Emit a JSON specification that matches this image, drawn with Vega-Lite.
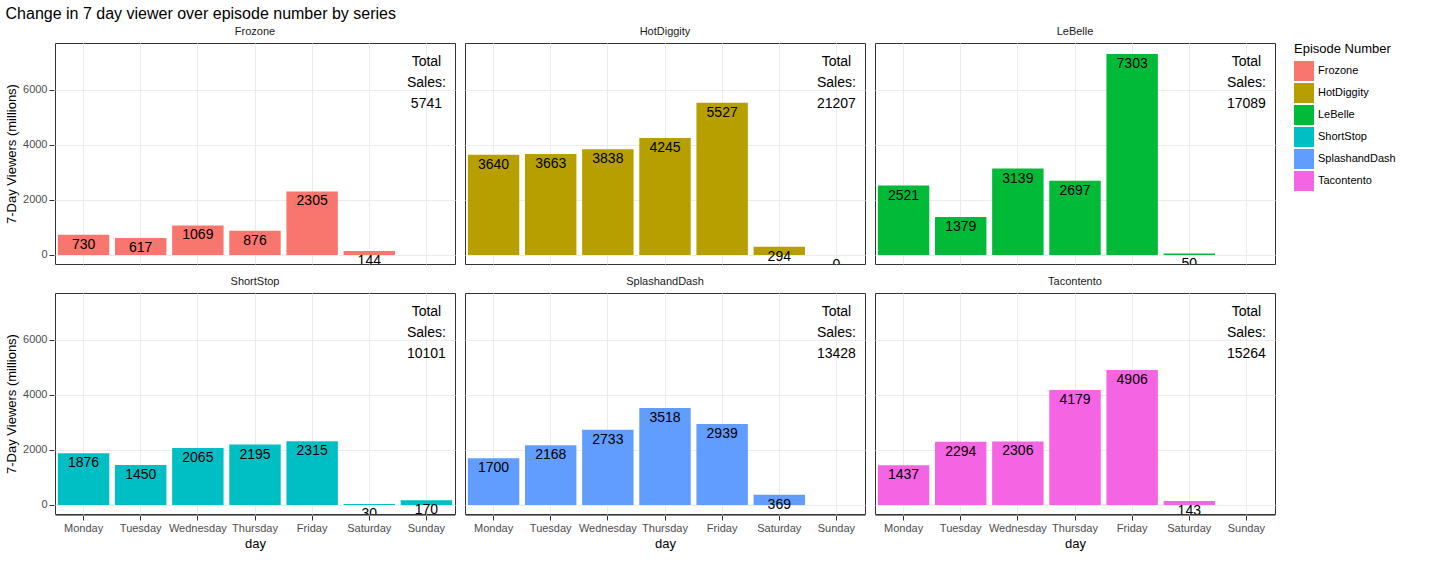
{
"$schema":"https://vega.github.io/schema/vega-lite/v6.json",
"background":"white",
"title":{"text":"Change in 7 day viewer over episode number by series","anchor":"start","fontSize":16,"fontWeight":"normal","font":"Liberation Sans","color":"black"},
"data":{"values":[
{"series":"Frozone","day":"Monday","v":730},{"series":"Frozone","day":"Tuesday","v":617},{"series":"Frozone","day":"Wednesday","v":1069},{"series":"Frozone","day":"Thursday","v":876},{"series":"Frozone","day":"Friday","v":2305},{"series":"Frozone","day":"Saturday","v":144},
{"series":"HotDiggity","day":"Monday","v":3640},{"series":"HotDiggity","day":"Tuesday","v":3663},{"series":"HotDiggity","day":"Wednesday","v":3838},{"series":"HotDiggity","day":"Thursday","v":4245},{"series":"HotDiggity","day":"Friday","v":5527},{"series":"HotDiggity","day":"Saturday","v":294},{"series":"HotDiggity","day":"Sunday","v":0},
{"series":"LeBelle","day":"Monday","v":2521},{"series":"LeBelle","day":"Tuesday","v":1379},{"series":"LeBelle","day":"Wednesday","v":3139},{"series":"LeBelle","day":"Thursday","v":2697},{"series":"LeBelle","day":"Friday","v":7303},{"series":"LeBelle","day":"Saturday","v":50},
{"series":"ShortStop","day":"Monday","v":1876},{"series":"ShortStop","day":"Tuesday","v":1450},{"series":"ShortStop","day":"Wednesday","v":2065},{"series":"ShortStop","day":"Thursday","v":2195},{"series":"ShortStop","day":"Friday","v":2315},{"series":"ShortStop","day":"Saturday","v":30},{"series":"ShortStop","day":"Sunday","v":170},
{"series":"SplashandDash","day":"Monday","v":1700},{"series":"SplashandDash","day":"Tuesday","v":2168},{"series":"SplashandDash","day":"Wednesday","v":2733},{"series":"SplashandDash","day":"Thursday","v":3518},{"series":"SplashandDash","day":"Friday","v":2939},{"series":"SplashandDash","day":"Saturday","v":369},
{"series":"Tacontento","day":"Monday","v":1437},{"series":"Tacontento","day":"Tuesday","v":2294},{"series":"Tacontento","day":"Wednesday","v":2306},{"series":"Tacontento","day":"Thursday","v":4179},{"series":"Tacontento","day":"Friday","v":4906},{"series":"Tacontento","day":"Saturday","v":143},
{"series":"Frozone","day":"Sunday","kind":"total","txt":"Total\nSales:\n5741"},
{"series":"HotDiggity","day":"Sunday","kind":"total","txt":"Total\nSales:\n21207"},
{"series":"LeBelle","day":"Sunday","kind":"total","txt":"Total\nSales:\n17089"},
{"series":"ShortStop","day":"Sunday","kind":"total","txt":"Total\nSales:\n10101"},
{"series":"SplashandDash","day":"Sunday","kind":"total","txt":"Total\nSales:\n13428"},
{"series":"Tacontento","day":"Sunday","kind":"total","txt":"Total\nSales:\n15264"}
]},
"facet":{"field":"series","type":"nominal","title":null,"header":{"labelFontSize":11,"labelFont":"Liberation Sans","labelColor":"#1a1a1a","labelPadding":6}},
"columns":3,
"spacing":{"column":8,"row":10},
"spec":{
"width":400,"height":221,
"layer":[
{"transform":[{"filter":"datum.kind != 'total'"}],
"mark":{"type":"bar"},
"encoding":{
"x":{"field":"day","type":"ordinal","sort":["Monday","Tuesday","Wednesday","Thursday","Friday","Saturday","Sunday"],"scale":{"paddingInner":0.1,"paddingOuter":0.05},"title":"day","axis":{"labelAngle":0,"grid":true,"gridColor":"#ebebeb","labelColor":"#4d4d4d","labelFontSize":11,"titleFontWeight":"normal","titleFontSize":13,"tickColor":"#333"}},
"y":{"field":"v","type":"quantitative","scale":{"domain":[-330,7700],"nice":false},"title":"7-Day Viewers (millions)","axis":{"values":[0,2000,4000,6000],"format":"d","gridColor":"#ebebeb","labelColor":"#4d4d4d","labelFontSize":11,"titleFontWeight":"normal","titleFontSize":13,"domain":false,"tickColor":"#333"}},
"color":{"field":"series","type":"nominal","title":"Episode Number","scale":{"range":["#F8766D","#B79F00","#00BA38","#00BFC4","#619CFF","#F564E3"]},"legend":{"titleFontWeight":"normal","titleFontSize":13,"labelFontSize":11,"symbolType":"square","symbolSize":400,"symbolStrokeWidth":0}}
}},
{"transform":[{"filter":"datum.kind != 'total'"}],
"mark":{"type":"text","baseline":"middle","dy":10,"fontSize":14,"font":"Liberation Sans","clip":true},
"encoding":{"x":{"field":"day","type":"ordinal","sort":["Monday","Tuesday","Wednesday","Thursday","Friday","Saturday","Sunday"]},"y":{"field":"v","type":"quantitative"},"text":{"field":"v","type":"quantitative"}}},
{"transform":[{"filter":"datum.kind == 'total'"}],
"mark":{"type":"text","baseline":"middle","fontSize":14,"font":"Liberation Sans","lineHeight":21,"clip":true},
"encoding":{"x":{"field":"day","type":"ordinal","sort":["Monday","Tuesday","Wednesday","Thursday","Friday","Saturday","Sunday"]},"y":{"datum":7000},"text":{"field":"txt"}}}
]},
"resolve":{"axis":{"x":"shared","y":"shared"}},
"config":{"view":{"stroke":"#333"},"font":"Liberation Sans","text":{"lineBreak":"\n"}}
}
